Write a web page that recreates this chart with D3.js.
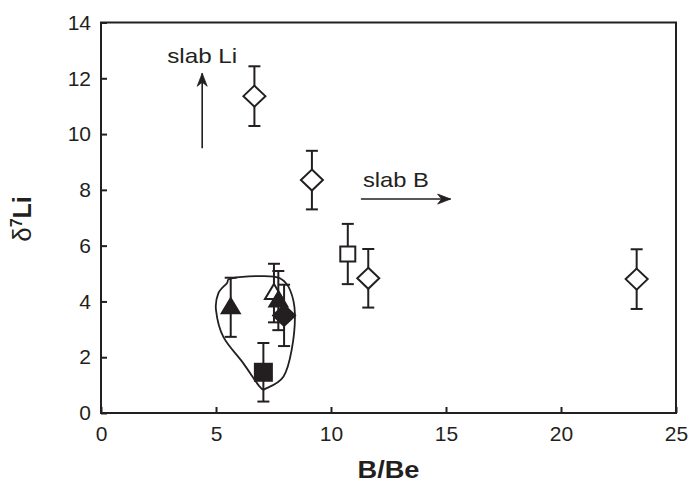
<!DOCTYPE html>
<html>
<head>
<meta charset="utf-8">
<script src="https://cdn.jsdelivr.net/npm/d3@7"></script>
<style>
  html, body { margin: 0; padding: 0; background: #fff; }
  svg { display: block; }
  text { font-family: "Liberation Sans", Arial, sans-serif; fill: #231f20; }
</style>
</head>
<body>
<div id="chart"></div>
<script>
// ---- data ----
const xTicks = [0, 5, 10, 15, 20, 25];
const yTicks = [0, 2, 4, 6, 8, 10, 12, 14];

const openDiamondX = [6.67, 9.17, 11.62, 23.29];
const openDiamondY = [11.36, 8.35, 4.83, 4.80];
const openDiamondErr = [1.07, 1.05, 1.05, 1.07];

const openSquareX = [10.73];
const openSquareY = [5.70];
const openSquareErr = [1.08];

const openTriangleX = [7.52];
const openTriangleY = [4.30];
const openTriangleErr = [1.05];

const filledTriangleX = [5.64, 7.71];
const filledTriangleY = [3.79, 4.03];
const filledTriangleErr = [1.06, 1.06];

const filledDiamondX = [7.96];
const filledDiamondY = [3.50];
const filledDiamondErr = [1.10];

const filledSquareX = [7.06];
const filledSquareY = [1.46];
const filledSquareErr = [1.05];

// closed envelope around the cluster (data units)
const envelopeX = [5.68, 7.06, 7.78, 8.22, 8.43, 8.29, 7.93, 7.20, 6.91, 6.19, 5.32, 5.00, 5.10, 5.47];
const envelopeY = [4.83, 4.91, 4.83, 4.41, 3.57, 2.26, 1.30, 0.89, 0.94, 1.78, 2.73, 3.69, 4.29, 4.65];

// annotations (data units)
const slabLiArrowX = [4.4, 4.4];
const slabLiArrowY = [9.49, 12.18];
const slabLiLabel = { text: "slab Li", x: 4.4, y: 12.56 };
const slabBArrowX = [11.3, 15.2];
const slabBArrowY = [7.67, 7.67];
const slabBLabel = { text: "slab B", x: 11.39, y: 8.1 };

// ---- layout ----
const W = 692, H = 488;
const margin = { left: 101, right: 16, top: 22.5, bottom: 75 };
const iw = W - margin.left - margin.right;
const ih = H - margin.top - margin.bottom;
const ink = "#231f20";

const svg = d3.select("#chart").append("svg")
  .attr("width", W).attr("height", H).attr("viewBox", `0 0 ${W} ${H}`);

const x = d3.scaleLinear().domain([0, 25]).range([margin.left, margin.left + iw]);
const y = d3.scaleLinear().domain([0, 14]).range([margin.top + ih, margin.top]);

// frame
svg.append("rect")
  .attr("x", x(0)).attr("y", y(14))
  .attr("width", x(25) - x(0)).attr("height", y(0) - y(14))
  .attr("fill", "none").attr("stroke", ink).attr("stroke-width", 2);

// axes with inward ticks
const xAxis = svg.append("g").attr("transform", `translate(0,${y(0)})`)
  .call(d3.axisBottom(x).tickValues(xTicks).tickSizeInner(-6).tickSizeOuter(0).tickPadding(14).tickFormat(d3.format("d")));
const yAxis = svg.append("g").attr("transform", `translate(${x(0)},0)`)
  .call(d3.axisLeft(y).tickValues(yTicks).tickSizeInner(-6).tickSizeOuter(0).tickPadding(10).tickFormat(d3.format("d")));
[xAxis, yAxis].forEach(g => {
  g.select(".domain").remove();
  g.selectAll("line").attr("stroke", ink).attr("stroke-width", 2);
  g.selectAll("text").attr("font-size", 21).attr("fill", ink)
    .attr("font-family", "'Liberation Sans', Arial, sans-serif");
});
xAxis.selectAll("text").attr("dy", "0.68em");

// axis titles
svg.append("text")
  .attr("x", (x(0) + x(25)) / 2).attr("y", 478)
  .attr("text-anchor", "middle").attr("font-size", 24).attr("font-weight", "bold")
  .attr("textLength", 62).attr("lengthAdjust", "spacingAndGlyphs")
  .text("B/Be");

const yt = svg.append("text")
  .attr("transform", `translate(31,${219}) rotate(-90)`)
  .attr("text-anchor", "middle").attr("font-size", 25).attr("font-weight", "bold");
yt.append("tspan").attr("font-weight", "normal").attr("font-size", 26).text("δ");
yt.append("tspan").attr("font-size", 16).attr("dy", -9).text("7");
yt.append("tspan").attr("dy", 9).text("Li");

// envelope
svg.append("path")
  .datum(envelopeX.map((d, i) => [x(d), y(envelopeY[i])]))
  .attr("d", d3.line().curve(d3.curveCardinalClosed.tension(0)))
  .attr("fill", "none").attr("stroke", ink).attr("stroke-width", 1.8);

// helpers
function errorBars(xs, ys, es) {
  const g = svg.append("g").attr("stroke", ink).attr("stroke-width", 2);
  xs.forEach((d, i) => {
    const cx = x(d), y1 = y(ys[i] - es[i]), y2 = y(ys[i] + es[i]);
    g.append("line").attr("x1", cx).attr("x2", cx).attr("y1", y1).attr("y2", y2);
    g.append("line").attr("x1", cx - 6).attr("x2", cx + 6).attr("y1", y1).attr("y2", y1);
    g.append("line").attr("x1", cx - 6).attr("x2", cx + 6).attr("y1", y2).attr("y2", y2);
  });
}
function diamonds(xs, ys, filled) {
  xs.forEach((d, i) => {
    const cx = x(d), cy = y(ys[i]);
    svg.append("path")
      .attr("d", `M${cx},${cy - 10.5}L${cx + 11},${cy}L${cx},${cy + 10.5}L${cx - 11},${cy}Z`)
      .attr("fill", filled ? ink : "#fff").attr("stroke", ink).attr("stroke-width", 2);
  });
}
function squares(xs, ys, filled, s) {
  xs.forEach((d, i) => {
    svg.append("rect").attr("x", x(d) - s / 2).attr("y", y(ys[i]) - s / 2)
      .attr("width", s).attr("height", s)
      .attr("fill", filled ? ink : "#fff").attr("stroke", ink).attr("stroke-width", 2);
  });
}
function triangles(xs, ys, filled) {
  xs.forEach((d, i) => {
    const cx = x(d), cy = y(ys[i]);
    svg.append("path")
      .attr("d", `M${cx},${cy - 9}L${cx + 9},${cy + 6}L${cx - 9},${cy + 6}Z`)
      .attr("fill", filled ? ink : "#fff").attr("stroke", ink).attr("stroke-width", 2)
      .attr("stroke-linejoin", "miter");
  });
}

// marks
errorBars(openDiamondX, openDiamondY, openDiamondErr);
diamonds(openDiamondX, openDiamondY, false);
errorBars(openSquareX, openSquareY, openSquareErr);
squares(openSquareX, openSquareY, false, 15);

errorBars(openTriangleX, openTriangleY, openTriangleErr);
triangles(openTriangleX, openTriangleY, false);
errorBars(filledTriangleX, filledTriangleY, filledTriangleErr);
triangles(filledTriangleX, filledTriangleY, true);
errorBars(filledDiamondX, filledDiamondY, filledDiamondErr);
diamonds(filledDiamondX, filledDiamondY, true);
errorBars(filledSquareX, filledSquareY, filledSquareErr);
squares(filledSquareX, filledSquareY, true, 17);

// annotation arrows
function arrow(xs, ys) {
  const x1 = x(xs[0]), y1 = y(ys[0]), x2 = x(xs[1]), y2 = y(ys[1]);
  svg.append("line").attr("x1", x1).attr("y1", y1).attr("x2", x2).attr("y2", y2)
    .attr("stroke", ink).attr("stroke-width", 1.6);
  const a = Math.atan2(y2 - y1, x2 - x1);
  const L = 13, Wd = 5, N = 9;
  const pt = (l, w) => [x2 - l * Math.cos(a) - w * Math.sin(a), y2 - l * Math.sin(a) + w * Math.cos(a)];
  const p1 = pt(L, Wd), p2 = pt(N, 0), p3 = pt(L, -Wd);
  svg.append("path").attr("d", `M${x2},${y2}L${p1}L${p2}L${p3}Z`).attr("fill", ink)
    .attr("stroke", ink).attr("stroke-width", 0.8);
}
arrow(slabLiArrowX, slabLiArrowY);
arrow(slabBArrowX, slabBArrowY);

svg.append("text").attr("x", x(slabLiLabel.x)).attr("y", y(slabLiLabel.y))
  .attr("text-anchor", "middle").attr("font-size", 21)
  .attr("textLength", 70).attr("lengthAdjust", "spacingAndGlyphs").text(slabLiLabel.text);
svg.append("text").attr("x", x(slabBLabel.x)).attr("y", y(slabBLabel.y))
  .attr("font-size", 21)
  .attr("textLength", 66).attr("lengthAdjust", "spacingAndGlyphs").text(slabBLabel.text);
</script>
</body>
</html>
